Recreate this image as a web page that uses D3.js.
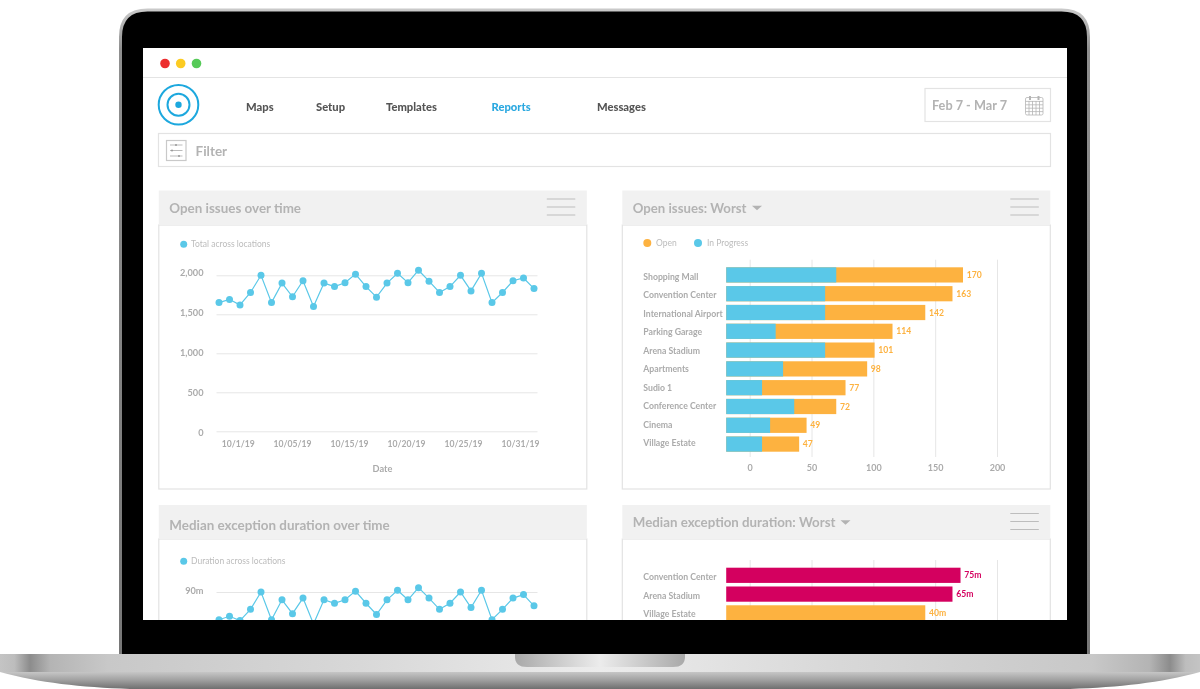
<!DOCTYPE html>
<html>
<head>
<meta charset="utf-8">
<script src="https://cdn.jsdelivr.net/npm/d3@7"></script>
<style>
  body { margin: 0; background: #fff; }
  svg { display: block; }
  text { font-family: Lato, "Noto Sans", sans-serif; }
  .axis path.domain { display: none; }
  .axis line { stroke: #e6e6e6; }
  .axis text { fill: #ababab; font-weight: 700; }
</style>
</head>
<body>
<div id="chart"></div>
<script>
const WIDTH = 1200, HEIGHT = 689;

// line charts
const dates = ['10/1/19', '10/05/19', '10/15/19', '10/20/19', '10/25/19', '10/31/19'];
const openTicks = [0, 500, 1000, 1500, 2000];
const openTotals = [1650, 1690, 1620, 1780, 2000, 1650, 1900, 1725, 1930, 1600, 1900, 1855, 1905, 2015, 1855, 1720,
  1900, 2025, 1905, 2065, 1925, 1780, 1855, 2000, 1800, 2025, 1650, 1780, 1930, 1965, 1830];
const durationMinutes = [74, 76, 73.5, 80, 90, 74, 85.5, 77.5, 86.5, 71.5, 85.5, 83.5, 85.5, 90.5, 83.5, 77,
  85.5, 91, 85.5, 92.5, 86.5, 80, 83.5, 90, 81, 91, 74, 80, 86.5, 88.5, 82];

// open issues by location
const locations = ['Shopping Mall', 'Convention Center', 'International Airport', 'Parking Garage', 'Arena Stadium',
  'Apartments', 'Sudio 1', 'Conference Center', 'Cinema', 'Village Estate'];
const inProgressEnd = [70, 61, 61, 21, 61, 27, 10, 36, 16.5, 10];
const openEnd = [172.5, 164, 142, 115.5, 101, 95, 77.5, 70, 46, 40];
const totalLabels = ['170', '163', '142', '114', '101', '98', '77', '72', '49', '47'];
const barTicks = [0, 50, 100, 150, 200];
const barStart = -19;

// median duration by location
const durationLocations = ['Convention Center', 'Arena Stadium', 'Village Estate'];
const durationEnd = [170.5, 164, 142];
const durationLabels = ['75m', '65m', '40m'];

const BLUE = '#5ac8e8', ORANGE = '#fdb240', PINK = '#d4005f', TITLE = '#b3b3b3', MUTED = '#bcbcbc';

const svg = d3.select('#chart').append('svg')
  .attr('width', WIDTH)
  .attr('height', HEIGHT);

const defs = svg.append('defs');

function gradient(id, stops, vertical) {
  const g = defs.append('linearGradient').attr('id', id)
    .attr('x1', 0).attr('y1', 0).attr('x2', vertical ? 0 : 1).attr('y2', vertical ? 1 : 0);
  stops.forEach(s => g.append('stop').attr('offset', s[0]).attr('stop-color', s[1]));
}

gradient('baseTop', [[0, '#c4c4c4'], [0.012, '#bdbdbd'], [0.025, '#8c8c8c'], [0.042, '#b4b4b4'], [0.09, '#c8c8c8'],
  [0.3, '#d8d8d8'], [0.5, '#ececec'], [0.7, '#d8d8d8'], [0.91, '#c8c8c8'], [0.958, '#b4b4b4'], [0.975, '#8c8c8c'],
  [0.988, '#bdbdbd'], [1, '#c4c4c4']]);
gradient('baseLow', [[0, '#c6c6c6'], [0.45, '#a2a2a2'], [1, '#6f6f6f']], true);
gradient('notch', [[0, '#a9a9a9'], [0.5, '#ececec'], [1, '#a9a9a9']]);
gradient('rim', [[0, '#c9c9c9'], [0.06, '#8f8f8f'], [1, '#777']], true);

defs.append('clipPath').attr('id', 'screenClip')
  .append('rect').attr('x', 143).attr('y', 48).attr('width', 924).attr('height', 572);

defs.append('filter').attr('id', 'soft')
  .attr('x', 0).attr('y', 0).attr('width', 1).attr('height', 1)
  .append('feGaussianBlur').attr('stdDeviation', 0.4);

// laptop body
svg.append('path')
  .attr('d', 'M120.5,660 V37 Q120.5,10 147.5,10 H1061.5 Q1088.5,10 1088.5,37 V660 Z')
  .attr('fill', '#000').attr('stroke', 'url(#rim)').attr('stroke-width', 3);

svg.append('path')
  .attr('d', 'M0,672 C40,683 80,687 130,689 L1070,689 C1120,687 1160,683 1200,672 Z')
  .attr('fill', 'url(#baseLow)');
svg.append('rect').attr('x', 0).attr('y', 654).attr('width', WIDTH).attr('height', 18).attr('fill', 'url(#baseTop)');
svg.append('path')
  .attr('d', 'M515,654 H685 V657 Q685,667 673,667 H527 Q515,667 515,657 Z')
  .attr('fill', 'url(#notch)');

const screen = svg.append('g')
  .attr('clip-path', 'url(#screenClip)')
  .append('g')
  .attr('filter', 'url(#soft)');

screen.append('rect').attr('x', 143).attr('y', 48).attr('width', 924).attr('height', 572).attr('fill', '#fff');

// window bar
screen.selectAll('.light')
  .data([[165, '#ec2d2f'], [180.7, '#fccb22'], [196.5, '#56ca58']])
  .enter().append('circle')
  .attr('class', 'light')
  .attr('cx', d => d[0]).attr('cy', 63.5).attr('r', 4.8)
  .attr('fill', d => d[1]);

screen.append('line').attr('x1', 143).attr('x2', 1067).attr('y1', 77.5).attr('y2', 77.5).attr('stroke', '#e4e4e4');

// logo
[[19.8, 2], [11, 2]].forEach(r => {
  screen.append('circle').attr('cx', 178.5).attr('cy', 104.8).attr('r', r[0])
    .attr('fill', 'none').attr('stroke', '#1fa8de').attr('stroke-width', r[1]);
});
screen.append('circle').attr('cx', 178.5).attr('cy', 104.8).attr('r', 3.2).attr('fill', '#1fa8de');

// nav
const nav = [['Maps', 246], ['Setup', 316], ['Templates', 386], ['Reports', 491.5], ['Messages', 597]];
screen.selectAll('.nav')
  .data(nav)
  .enter().append('text')
  .attr('class', 'nav')
  .attr('x', d => d[1]).attr('y', 111)
  .attr('font-size', 11.2).attr('font-weight', 900)
  .attr('fill', d => d[0] === 'Reports' ? '#2aa8e0' : '#555')
  .text(d => d[0]);

function box(x, y, w, h, stroke) {
  return screen.append('rect')
    .attr('x', x).attr('y', y).attr('width', w).attr('height', h)
    .attr('fill', '#fff').attr('stroke', stroke || '#e3e3e3').attr('stroke-width', 1.2);
}

// date picker
box(925, 88.5, 125.5, 33);
screen.append('text').attr('x', 932).attr('y', 109.5).attr('font-size', 12.7).attr('font-weight', 700)
  .attr('fill', TITLE).text('Feb 7 - Mar 7');
const cal = screen.append('g').attr('stroke', '#b5b5b5').attr('fill', 'none').attr('stroke-width', 0.8);
cal.append('rect').attr('x', 1025.5).attr('y', 97.5).attr('width', 17.5).attr('height', 17.5).attr('rx', 1.5);
d3.range(1, 5).forEach(i => {
  cal.append('line').attr('x1', 1025.5).attr('x2', 1043).attr('y1', 98 + i * 3.4).attr('y2', 98 + i * 3.4);
  cal.append('line').attr('y1', 101).attr('y2', 115).attr('x1', 1025.5 + i * 3.5).attr('x2', 1025.5 + i * 3.5);
});
[1030, 1038.5].forEach(x => {
  cal.append('line').attr('x1', x).attr('x2', x).attr('y1', 96).attr('y2', 100).attr('stroke-width', 2);
});

// filter bar
box(158.5, 133.5, 892, 33);
box(166.5, 140.5, 19.5, 20, '#c9c9c9');
[[145, 176], [150.5, 172], [156, 179]].forEach(d => {
  screen.append('line').attr('x1', 170).attr('x2', 182.5).attr('y1', d[0]).attr('y2', d[0]).attr('stroke', '#aaa').attr('stroke-width', 0.8);
  screen.append('circle').attr('cx', d[1]).attr('cy', d[0]).attr('r', 1).attr('fill', '#999');
});
screen.append('text').attr('x', 195.5).attr('y', 155.5).attr('font-size', 13.5).attr('font-weight', 700)
  .attr('fill', TITLE).text('Filter');

function panel(x, top, headerH, bottom, title, opts) {
  const w = 428;
  box(x, top + headerH, w, bottom - top - headerH);
  screen.append('rect').attr('x', x).attr('y', top).attr('width', w).attr('height', headerH).attr('fill', '#f1f1f1');
  screen.append('text').attr('x', x + 10.5).attr('y', opts.titleY)
    .attr('font-size', opts.size).attr('font-weight', 700).attr('fill', TITLE).text(title);
  if (opts.menu) {
    [8.5, 16.5, 24.5].forEach(dy => {
      screen.append('line').attr('x1', x + w - 40).attr('x2', x + w - 11.5)
        .attr('y1', top + dy).attr('y2', top + dy).attr('stroke', '#bdbdbd');
    });
  }
  if (opts.caret) {
    screen.append('path')
      .attr('d', d3.line()([[opts.caret, top + 15.3], [opts.caret + 10, top + 15.3], [opts.caret + 5, top + 19.8]]))
      .attr('fill', '#b3b3b3');
  }
}

panel(158.8, 190.5, 34.5, 489, 'Open issues over time', { size: 13.4, titleY: 212.7, menu: true });
panel(622.3, 190.5, 34.5, 489, 'Open issues: Worst', { size: 13.2, titleY: 212.7, menu: true, caret: 752 });
panel(158.8, 505, 34, 700, 'Median exception duration over time', { size: 13.4, titleY: 529.7 });
panel(622.3, 505, 34, 700, 'Median exception duration: Worst', { size: 13.3, titleY: 526.7, menu: true, caret: 840.5 });

function legend(items, y) {
  items.forEach(d => {
    screen.append('circle').attr('cx', d.x).attr('cy', y).attr('r', d.r).attr('fill', d.color);
    screen.append('text').attr('x', d.tx).attr('y', y + 3).attr('font-size', 8.5).attr('font-weight', 400)
      .attr('fill', MUTED).text(d.text);
  });
}

legend([{ x: 183.7, r: 3.5, tx: 191, color: BLUE, text: 'Total across locations' }], 244.3);
legend([{ x: 647.3, r: 4, tx: 656, color: ORANGE, text: 'Open' }, { x: 698, r: 4, tx: 707, color: BLUE, text: 'In Progress' }], 243);
legend([{ x: 183.7, r: 3.5, tx: 191, color: BLUE, text: 'Duration across locations' }], 561.3);

// --- line charts
const xLine = d3.scalePoint()
  .domain(d3.range(openTotals.length))
  .range([219, 534]);

// tick labels drift a little from their grid lines in the mockup, so they get their own scale
function lineChart(values, y, yLabel, ticks, format) {
  const g = screen.append('g');

  g.append('g')
    .attr('class', 'axis')
    .attr('transform', 'translate(216.5,0)')
    .call(d3.axisLeft(y).tickValues(ticks).tickFormat(format).tickSize(-321).tickPadding(13))
    .call(a => a.selectAll('text')
      .attr('y', d => yLabel(d) - y(d))
      .attr('dy', '0.35em')
      .attr('font-size', 9.2));

  g.append('path')
    .attr('d', d3.line().x((d, i) => xLine(i)).y(d => y(d))(values))
    .attr('fill', 'none')
    .attr('stroke', BLUE)
    .attr('stroke-width', 1.2);

  g.selectAll('circle')
    .data(values)
    .enter().append('circle')
    .attr('cx', (d, i) => xLine(i))
    .attr('cy', d => y(d))
    .attr('r', 3.5)
    .attr('fill', BLUE);
}

const yOpen = d3.scaleLinear().domain([0, 2000]).range([431.3, 275.3]);
const yOpenLabel = d3.scaleLinear().domain([0, 2000]).range([432.3, 272.7]);
lineChart(openTotals, yOpen, yOpenLabel, openTicks, d3.format(','));

const xDates = d3.scalePoint().domain(dates).range([235, 520]);
screen.append('g')
  .attr('class', 'axis')
  .attr('transform', 'translate(0,431.3)')
  .call(d3.axisBottom(xDates).tickSize(0).tickPadding(9.5))
  .call(a => a.selectAll('text').attr('font-size', 8.6))
  .call(a => a.select('.tick text').attr('dx', 2.7));

screen.append('text').attr('x', 382.5).attr('y', 471.5).attr('text-anchor', 'middle')
  .attr('font-size', 9.2).attr('font-weight', 700).attr('fill', '#ababab').text('Date');

const yDuration = d3.scaleLinear().domain([0, 90]).range([748, 592]);
const yDurationLabel = d3.scaleLinear().domain([0, 90]).range([746, 590]);
lineChart(durationMinutes, yDuration, yDurationLabel, [90], d => d + 'm');

// --- bar charts
const xBar = d3.scaleLinear().domain([0, 200]).range([749.7, 997]);

function barChart(names, top, labelTop, drawBars) {
  const y = d3.scaleBand().domain(names).range([top, top + names.length * 18.8 - 3.6]).paddingInner(0.19);
  const yName = d3.scalePoint().domain(names).range([labelTop, labelTop + (names.length - 1) * 18.5]);
  const g = screen.append('g');

  drawBars(g, y);

  g.selectAll('.name')
    .data(names)
    .enter().append('text')
    .attr('class', 'name')
    .attr('x', 643.3)
    .attr('y', d => yName(d))
    .attr('dy', '0.35em')
    .attr('font-size', 8.7).attr('font-weight', 700)
    .attr('fill', '#ababab')
    .text(d => d);
}

function barGrid(bottom, gridH, format) {
  screen.append('g')
    .attr('class', 'axis')
    .attr('transform', `translate(0,${bottom})`)
    .call(d3.axisBottom(xBar).tickValues(barTicks).tickSize(-gridH).tickPadding(8).tickFormat(format))
    .call(a => a.selectAll('text').attr('font-size', 9).attr('font-weight', 400));
}

function endLabel(g, y, names, ends, labels, color) {
  g.selectAll('.end')
    .data(names)
    .enter().append('text')
    .attr('class', 'end')
    .attr('x', (d, i) => xBar(ends[i]) + 3.7)
    .attr('y', d => y(d) + y.bandwidth() / 2)
    .attr('dy', '0.35em')
    .attr('font-size', 8.6).attr('font-weight', 700)
    .attr('fill', typeof color === 'function' ? (d, i) => color(i) : color)
    .text((d, i) => labels[i]);
}

barGrid(457, 197.3, d3.format('d'));
barChart(locations, 267.3, 276.7, (g, y) => {
  g.selectAll('.open')
    .data(locations)
    .enter().append('rect')
    .attr('x', xBar(barStart))
    .attr('y', d => y(d))
    .attr('width', (d, i) => xBar(openEnd[i]) - xBar(barStart))
    .attr('height', y.bandwidth())
    .attr('fill', ORANGE);

  g.selectAll('.progress')
    .data(locations)
    .enter().append('rect')
    .attr('x', xBar(barStart))
    .attr('y', d => y(d))
    .attr('width', (d, i) => xBar(inProgressEnd[i]) - xBar(barStart))
    .attr('height', y.bandwidth())
    .attr('fill', BLUE);

  endLabel(g, y, locations, openEnd, totalLabels, ORANGE);
});

barGrid(757, 197, () => '');
const durationColors = [PINK, PINK, ORANGE];
barChart(durationLocations, 567.7, 577, (g, y) => {
  g.selectAll('rect')
    .data(durationLocations)
    .enter().append('rect')
    .attr('x', xBar(barStart))
    .attr('y', d => y(d))
    .attr('width', (d, i) => xBar(durationEnd[i]) - xBar(barStart))
    .attr('height', y.bandwidth())
    .attr('fill', (d, i) => durationColors[i]);

  endLabel(g, y, durationLocations, durationEnd, durationLabels, i => durationColors[i]);
});
</script>
</body>
</html>
